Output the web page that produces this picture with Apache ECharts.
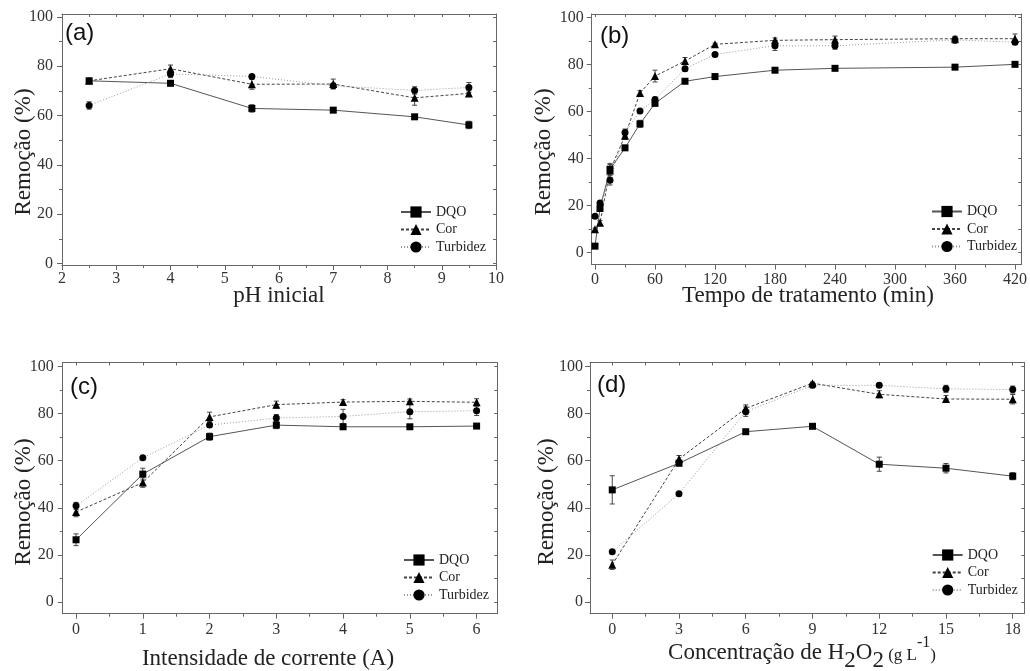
<!DOCTYPE html>
<html><head><meta charset="utf-8">
<script src="https://cdn.jsdelivr.net/npm/echarts@6/dist/echarts.min.js"></script>
<style>html,body{margin:0;padding:0;background:#fff}#c{width:1030px;height:671px}</style>
</head><body><div id="c"></div>
<script>
// ---------- DATA ----------
const seriesNames = ['DQO', 'Cor', 'Turbidez'];
const yTicks = [0, 20, 40, 60, 80, 100];
const yMinor = [10, 30, 50, 70, 90];

// (a) pH inicial
const aX = [2.5, 4, 5.5, 7, 8.5, 9.5];
const aDQO = [74.1, 73.1, 62.9, 62.2, 59.5, 56.2];
const aCor = [74.1, 79.0, 72.7, 72.8, 67.2, 69.0];
const aTurb = [64.1, 76.9, 75.9, 72.1, 70.2, 71.4];
const aDQOErr = [1, 1, 1.5, 0.5, 0.5, 1.5];
const aCorErr = [1, 1.5, 2, 2, 3, 1];
const aTurbErr = [1.5, 1.5, 0.5, 1, 1.5, 2];
const aXTicks = [2, 3, 4, 5, 6, 7, 8, 9, 10];
const aXMinor = [2.5, 3.5, 4.5, 5.5, 6.5, 7.5, 8.5, 9.5];

// (b) Tempo de tratamento (min)
const bX = [0, 5, 15, 30, 45, 60, 90, 120, 180, 240, 360, 420];
const bDQO = [2.8, 18.8, 35.5, 44.6, 54.8, 63.5, 72.9, 74.9, 77.6, 78.4, 78.9, 80.1];
const bCor = [10.0, 12.7, 35.0, 49.7, 67.9, 75.1, 81.5, 88.6, 90.3, 90.6, 91.0, 91.0];
const bTurb = [15.5, 21.1, 30.8, 51.1, 60.3, 65.1, 78.2, 84.3, 88.0, 88.0, 90.5, 89.5];
const bDQOErr = [0.5, 1, 2, 1, 1.5, 1, 0.5, 0.5, 1, 0.5, 0.5, 1];
const bCorErr = [0.5, 1, 3, 1.5, 1, 2.5, 1.5, 0.5, 1, 1.5, 1, 2];
const bTurbErr = [0.5, 0.5, 2, 1.5, 0.5, 1, 1, 0.5, 2, 1.5, 1.5, 1];
const bXTicks = [0, 60, 120, 180, 240, 300, 360, 420];
const bXMinor = [30, 90, 150, 210, 270, 330, 390];

// (c) Intensidade de corrente (A)
const cX = [0, 1, 2, 3, 4, 5, 6];
const cDQO = [26.4, 54.3, 70.2, 75.1, 74.4, 74.4, 74.7];
const cCor = [38.2, 50.7, 78.6, 83.8, 84.9, 85.2, 84.8];
const cTurb = [40.8, 61.2, 75.1, 78.1, 78.8, 80.8, 81.2];
const cDQOErr = [2.5, 2.5, 1.5, 1.5, 1, 0.5, 0.5];
const cCorErr = [2, 2, 2, 1.5, 1, 1, 1.5];
const cTurbErr = [1.5, 0.5, 1, 1.5, 3, 3, 2];
const cXTicks = [0, 1, 2, 3, 4, 5, 6];
const cXMinor = [0.5, 1.5, 2.5, 3.5, 4.5, 5.5];

// (d) Concentração de H2O2 (g L-1)
const dX = [0, 3, 6, 9, 12, 15, 18];
const dDQO = [47.6, 58.9, 72.3, 74.6, 58.5, 56.8, 53.4];
const dCor = [15.8, 60.7, 82.2, 92.9, 88.2, 86.2, 86.1];
const dTurb = [21.3, 46.0, 80.8, 92.0, 92.0, 90.5, 90.2];
const dDQOErr = [6, 1, 0.5, 0.5, 3, 2, 1.5];
const dCorErr = [2, 1.5, 1.5, 0.5, 1.5, 1.5, 2];
const dTurbErr = [0.5, 0.5, 2, 1, 0.5, 1.5, 1.5];
const dXTicks = [0, 3, 6, 9, 12, 15, 18];
const dXMinor = [1.5, 4.5, 7.5, 10.5, 13.5, 16.5];

// ---------- LAYOUT / STYLE ----------
const FONT = 'Liberation Serif';
const panels = [
  {x: aX, vals: [aDQO, aCor, aTurb], errs: [aDQOErr, aCorErr, aTurbErr], xTicks: aXTicks, xMinor: aXMinor,
   grid: {left: 62, top: 14, width: 434, height: 251}, xMin: 2, xMax: 10, yMin: -0.6, yMax: 101.2,
   xLabelMargin: 6, yLabelMargin: 9, legend: {left: 400, top: 205}},
  {x: bX, vals: [bDQO, bCor, bTurb], errs: [bDQOErr, bCorErr, bTurbErr], xTicks: bXTicks, xMinor: bXMinor,
   grid: {left: 591.7, top: 14, width: 432.3, height: 250.5}, xMin: -3.3, xMax: 426.2, yMin: -5.0, yMax: 101.5,
   xLabelMargin: 7, yLabelMargin: 8, legend: {left: 931, top: 204.5}},
  {x: cX, vals: [cDQO, cCor, cTurb], errs: [cDQOErr, cCorErr, cTurbErr], xTicks: cXTicks, xMinor: cXMinor,
   grid: {left: 62.7, top: 362.5, width: 434.6, height: 251.2}, xMin: -0.2, xMax: 6.31, yMin: -5.0, yMax: 101.7,
   xLabelMargin: 8, yLabelMargin: 9, legend: {left: 403, top: 553}},
  {x: dX, vals: [dDQO, dCor, dTurb], errs: [dDQOErr, dCorErr, dTurbErr], xTicks: dXTicks, xMinor: dXMinor,
   grid: {left: 590, top: 362.5, width: 434.3, height: 251.2}, xMin: -1.0, xMax: 18.52, yMin: -5.0, yMax: 101.7,
   xLabelMargin: 8, yLabelMargin: 7, legend: {left: 931.7, top: 548}}
];
const styles = [
  {symbol: 'rect', size: 7, line: {color: '#555', width: 1, type: 'solid'}},
  {symbol: 'triangle', size: 8, line: {color: '#444', width: 1, type: [3, 2]}},
  {symbol: 'circle', size: 7, line: {color: '#999', width: 1, type: [1, 2]}}
];
const axisColor = '#666';

const grid = [], xAxis = [], yAxis = [], series = [], legend = [];
panels.forEach((p, i) => {
  grid.push(p.grid);
  const ls = {color: axisColor, width: 1};
  const xi = xAxis.length, yi = yAxis.length;
  const xBase = {gridIndex: i, type: 'value', min: p.xMin, max: p.xMax, splitLine: {show: false}};
  const yBase = {gridIndex: i, type: 'value', min: p.yMin, max: p.yMax, splitLine: {show: false}};
  xAxis.push(Object.assign({}, xBase, {position: 'bottom',
    axisLine: {show: true, onZero: false, lineStyle: ls},
    axisTick: {show: true, inside: false, length: 5, customValues: p.xTicks, lineStyle: ls},
    axisLabel: {show: true, customValues: p.xTicks, margin: p.xLabelMargin, fontFamily: FONT, fontSize: 16, color: '#333'}}));
  xAxis.push(Object.assign({}, xBase, {position: 'bottom',
    axisLine: {show: false, onZero: false},
    axisTick: {show: true, inside: false, length: 3, customValues: p.xMinor, lineStyle: ls},
    axisLabel: {show: false}}));
  xAxis.push(Object.assign({}, xBase, {position: 'top',
    axisLine: {show: true, onZero: false, lineStyle: ls},
    axisTick: {show: true, inside: true, length: 3, customValues: p.xTicks.concat(p.xMinor), lineStyle: ls},
    axisLabel: {show: false}}));
  yAxis.push(Object.assign({}, yBase, {position: 'left',
    axisLine: {show: true, onZero: false, lineStyle: ls},
    axisTick: {show: true, inside: false, length: 5, customValues: yTicks, lineStyle: ls},
    axisLabel: {show: true, customValues: yTicks, margin: p.yLabelMargin, fontFamily: FONT, fontSize: 16, color: '#333'}}));
  yAxis.push(Object.assign({}, yBase, {position: 'left',
    axisLine: {show: false, onZero: false},
    axisTick: {show: true, inside: false, length: 3, customValues: yMinor, lineStyle: ls},
    axisLabel: {show: false}}));
  yAxis.push(Object.assign({}, yBase, {position: 'right',
    axisLine: {show: true, onZero: false, lineStyle: ls},
    axisTick: {show: true, inside: true, length: 3, customValues: yTicks.concat(yMinor), lineStyle: ls},
    axisLabel: {show: false}}));

  seriesNames.forEach((name, k) => {
    const st = styles[k];
    const v = p.vals[k], e = p.errs[k];
    series.push({
      type: 'custom', xAxisIndex: xi, yAxisIndex: yi, silent: true, z: 2,
      data: p.x.map((x, j) => [x, v[j] - e[j], v[j] + e[j]]),
      renderItem: function (params, api) {
        const lo = api.coord([api.value(0), api.value(1)]);
        const hi = api.coord([api.value(0), api.value(2)]);
        const c = '#444', w = 2.5;
        return {type: 'group', children: [
          {type: 'line', shape: {x1: lo[0], y1: lo[1], x2: hi[0], y2: hi[1]}, style: {stroke: c, lineWidth: 1}},
          {type: 'line', shape: {x1: lo[0] - w, y1: lo[1], x2: lo[0] + w, y2: lo[1]}, style: {stroke: c, lineWidth: 1}},
          {type: 'line', shape: {x1: hi[0] - w, y1: hi[1], x2: hi[0] + w, y2: hi[1]}, style: {stroke: c, lineWidth: 1}}
        ]};
      }
    });
    series.push({
      type: 'line', name: name, xAxisIndex: xi, yAxisIndex: yi, z: 3,
      data: p.x.map((x, j) => [x, v[j]]),
      symbol: st.symbol, symbolSize: st.size, showSymbol: true,
      lineStyle: st.line, itemStyle: {color: '#000'}
    });
  });

  legend.push({
    data: seriesNames, orient: 'vertical', left: p.legend.left, top: p.legend.top,
    itemWidth: 30, itemHeight: 14, itemGap: 3.5, padding: 0, selectedMode: false,
    textStyle: {fontFamily: FONT, fontSize: 14, color: '#222'}
  });
});

const titleStyle = {fontFamily: FONT, fontSize: 23, fill: '#222', align: 'center', verticalAlign: 'middle'};
const labelStyle = {fontFamily: 'Liberation Sans', fontSize: 24, fill: '#111', align: 'left', verticalAlign: 'middle'};
const graphic = [
  {type: 'text', x: 24, y: 152, rotation: Math.PI / 2, style: Object.assign({text: 'Remoção (%)'}, titleStyle)},
  {type: 'text', x: 544, y: 152, rotation: Math.PI / 2, style: Object.assign({text: 'Remoção (%)'}, titleStyle)},
  {type: 'text', x: 24, y: 502, rotation: Math.PI / 2, style: Object.assign({text: 'Remoção (%)'}, titleStyle)},
  {type: 'text', x: 547, y: 502, rotation: Math.PI / 2, style: Object.assign({text: 'Remoção (%)'}, titleStyle)},
  {type: 'text', x: 279, y: 296, style: Object.assign({text: 'pH inicial'}, titleStyle)},
  {type: 'text', x: 808, y: 296, style: Object.assign({text: 'Tempo de tratamento (min)'}, titleStyle)},
  {type: 'text', x: 268, y: 659, style: Object.assign({text: 'Intensidade de corrente (A)'}, titleStyle)},
  {type: 'text', x: 802, y: 653, style: Object.assign({
    text: '{n|Concentração de H}{sub|2}{n|O}{sub|2}{s| (g L}{sup|-1}{s|)}',
    rich: {
      n: {fontFamily: FONT, fontSize: 23, fill: '#222'},
      sub: {fontFamily: FONT, fontSize: 23, fill: '#222', padding: [16, 0, 0, 0]},
      s: {fontFamily: FONT, fontSize: 17, fill: '#222', padding: [6, 0, 0, 0]},
      sup: {fontFamily: FONT, fontSize: 16, fill: '#222', padding: [0, 0, 20, 0]}
    }}, titleStyle)},
  {type: 'text', x: 65, y: 33, style: Object.assign({text: '(a)'}, labelStyle)},
  {type: 'text', x: 600, y: 36, style: Object.assign({text: '(b)'}, labelStyle)},
  {type: 'text', x: 70, y: 387, style: Object.assign({text: '(c)'}, labelStyle)},
  {type: 'text', x: 597, y: 385, style: Object.assign({text: '(d)'}, labelStyle)}
];

const chart = echarts.init(document.getElementById('c'), null, {renderer: 'canvas'});
chart.setOption({animation: false, backgroundColor: '#fff', grid, xAxis, yAxis, series, legend, graphic});
</script></body></html>
